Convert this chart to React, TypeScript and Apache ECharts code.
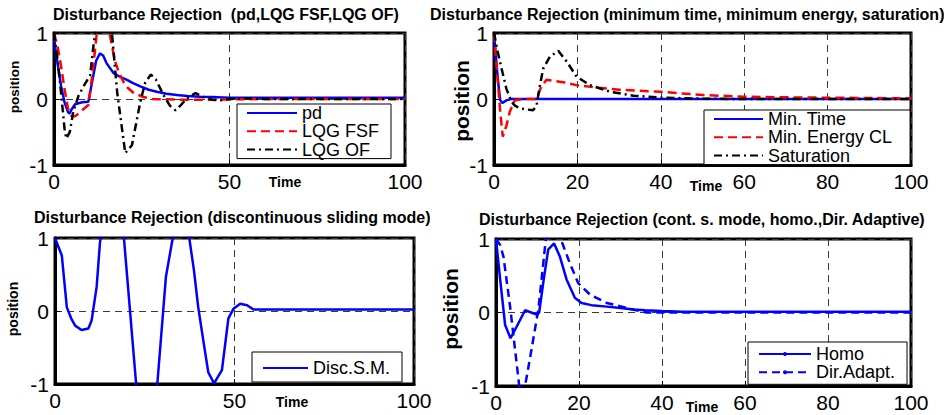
import React, { useEffect, useRef } from "react";
import * as echarts from "echarts";

const FONT = '"Liberation Sans", Arial, Helvetica, sans-serif';

// ---------- Panel titles ----------
const TITLES = [
  "Disturbance Rejection  (pd,LQG FSF,LQG OF)",
  "Disturbance Rejection (minimum time, minimum energy, saturation)",
  "Disturbance Rejection (discontinuous sliding mode)",
  "Disturbance Rejection (cont. s. mode, homo.,Dir. Adaptive)",
];
const X_NAME = "Time";
const Y_NAME = "position";

// ---------- Panel 1: pd, LQG FSF, LQG OF ----------
const pdT = [0, 1, 2, 3, 4, 4.5, 5, 6, 8, 9.8, 11, 12, 13.1, 14, 15, 17, 19, 20.8, 22.5, 24.6, 27, 29.3, 32, 35, 38, 41.7, 45, 50, 60, 70, 80, 90, 100];
const pdY = [0.9, 0.55, 0.2, -0.05, -0.2, -0.22, -0.16, -0.08, -0.05, -0.04, 0.3, 0.58, 0.69, 0.66, 0.54, 0.39, 0.33, 0.29, 0.24, 0.19, 0.14, 0.11, 0.08, 0.06, 0.045, 0.035, 0.03, 0.02, 0.02, 0.02, 0.02, 0.02, 0.02];

const fsfT = [0, 1, 2, 3, 4, 5, 6, 7, 8, 9.8, 11, 12.2, 13, 14, 15, 15.8, 17.4, 18.5, 19.8, 21, 22.7, 25.5, 28, 35, 45, 60, 80, 100];
const fsfY = [1, 0.8, 0.5, 0.15, -0.15, -0.26, -0.26, -0.22, -0.17, -0.09, 0.4, 1.0, 1.15, 1.2, 1.12, 1.0, 0.57, 0.4, 0.26, 0.17, 0.09, 0.03, 0.0, -0.01, -0.01, 0, 0, 0];

const ofT = [0, 1, 2, 3, 3.5, 4.5, 5.5, 7, 8.4, 10.3, 11, 11.7, 13, 14.5, 16, 16.5, 18, 20.3, 22.2, 24.6, 26, 27.6, 29, 31.2, 33, 34.6, 36, 37.9, 40.3, 42.6, 45, 47.4, 50, 55, 60, 70, 80, 90, 100];
const ofY = [1, 0.6, 0.1, -0.45, -0.6, -0.5, -0.19, 0.05, 0.19, 0.36, 0.7, 1.0, 1.4, 1.5, 1.2, 1.0, 0.1, -0.82, -0.7, -0.04, 0.25, 0.37, 0.3, 0.06, -0.1, -0.17, -0.1, 0.01, 0.09, 0.03, -0.01, -0.02, 0, 0.01, 0, 0, 0, 0, 0];

// ---------- Panel 2: Min. Time, Min. Energy CL, Saturation ----------
const mtT = [0, 0.5, 1, 1.5, 2, 3, 4, 100];
const mtY = [1, 0.6, 0.25, -0.02, -0.06, -0.02, 0, 0];

const meT = [0, 1, 1.5, 2.1, 3, 3.8, 5, 7, 10.2, 11.4, 12.6, 14, 17, 19.8, 25, 30, 40, 50, 60, 70, 80, 90, 100];
const meY = [1, 0.2, -0.2, -0.57, -0.4, -0.19, -0.02, 0, 0, 0.2, 0.29, 0.28, 0.25, 0.21, 0.17, 0.14, 0.11, 0.06, 0.035, 0.025, 0.02, 0.015, 0.01];

const satT = [0, 1, 2.2, 3, 4.2, 5, 6.2, 8, 9.4, 10.2, 11, 11.8, 13.4, 15.4, 17.4, 19.8, 23, 27.8, 33.4, 40, 50, 60, 100];
const satY = [1, 0.68, 0.36, 0.15, -0.04, -0.1, -0.14, -0.16, -0.17, -0.1, 0.2, 0.46, 0.64, 0.73, 0.57, 0.34, 0.21, 0.11, 0.05, 0.02, 0.005, 0, 0];

// ---------- Panel 3: Disc.S.M. ----------
const dsmT = [0, 1.9, 3.3, 4.5, 5.6, 7.4, 9.3, 10.2, 11.6, 12.5, 14, 16, 18, 19.2, 22.6, 24, 25.5, 27, 28.5, 30.9, 32.8, 34, 35.5, 36.5, 37.4, 38.7, 39.9, 41.3, 42.7, 44.3, 46.5, 48.3, 49.7, 51.6, 53.5, 55.3, 60, 70, 80, 90, 100];
const dsmY = [1, 0.76, 0.05, -0.1, -0.2, -0.26, -0.24, -0.13, 0.33, 0.92, 1.6, 1.9, 1.6, 1.0, -1.0, -1.7, -1.9, -1.7, -1.0, 0.47, 1.0, 1.5, 1.7, 1.4, 1.0, 0.56, 0.05, -0.4, -0.84, -0.99, -0.81, -0.1, 0.03, 0.1, 0.08, 0.02, 0.02, 0.02, 0.02, 0.02, 0.02];

// ---------- Panel 4: Homo, Dir.Adapt. ----------
const homoT = [0, 1, 2.2, 3.5, 5, 7, 8.5, 9.8, 10.4, 11.5, 12.6, 14, 15.4, 17, 19, 20.6, 23, 26.7, 30, 33.1, 36, 40, 45, 50, 60, 70, 80, 90, 100];
const homoY = [1, 0.45, -0.17, -0.35, -0.19, 0.03, 0.0, -0.03, 0.0, 0.45, 0.86, 0.94, 0.76, 0.45, 0.2, 0.13, 0.1, 0.08, 0.06, 0.04, 0.03, 0.02, 0.01, 0.01, 0.01, 0.01, 0.01, 0.01, 0.01];

const dirT = [0, 1, 1.8, 3.4, 4.6, 5.6, 6.3, 7, 8.2, 10.2, 11.4, 12, 13, 14, 15, 15.6, 17.8, 19.8, 22.7, 26.7, 32.3, 36.3, 40, 50, 60, 70, 80, 90, 100];
const dirY = [1, 0.92, 0.76, 0.08, -0.51, -1.0, -1.1, -1.0, -0.62, 0.04, 0.67, 1.0, 1.15, 1.2, 1.1, 1.0, 0.67, 0.4, 0.24, 0.13, 0.05, 0.0, 0.0, 0.0, 0.0, 0.0, 0.0, 0.0, 0.0];

// ---------- Axis ticks ----------
const X_MIN = 0;
const X_MAX = 100;
const X_INTERVALS = [50, 20, 50, 20];
const Y_MIN = -1;
const Y_MAX = 1;
const Y_INTERVAL = 1;

const pairs = (t: number[], y: number[]) => t.map((x, i) => [x, y[i]]);

const BLUE = "#0000ff";
const RED = "#ff0000";
const BLACK = "#000000";
const DASH = [9, 5];
const DASHDOT = [8, 4, 2, 4];

function line(name: string, idx: number, t: number[], y: number[], color: string, type: any, withSymbol = false) {
  return {
    type: "line",
    name,
    xAxisIndex: idx,
    yAxisIndex: idx,
    data: pairs(t, y),
    symbol: withSymbol ? "circle" : "none",
    symbolSize: 4,
    showSymbol: false,
    silent: true,
    clip: true,
    lineStyle: { color, width: 2.5, type },
    itemStyle: { color },
  };
}

export default function App() {
  const ref = useRef<HTMLDivElement>(null);

  useEffect(() => {
    document.body.style.margin = "0";
    const chart = echarts.init(ref.current!, null, { renderer: "svg" });

    const grids = [
      { left: 54, top: 33, width: 351, height: 132 },
      { left: 494, top: 33, width: 417, height: 132 },
      { left: 55, top: 238, width: 359, height: 146 },
      { left: 496, top: 239, width: 415, height: 147 },
    ];

    const grid = grids.map((g) => ({
      ...g,
      show: true,
      backgroundColor: "#fff",
      borderColor: "#000",
      borderWidth: 3,
      containLabel: false,
    }));

    const splitLine = { show: true, lineStyle: { color: "#3a3a3a", width: 1, type: [7, 5] } };

    const xAxis = grids.map((_, i) => ({
      type: "value",
      gridIndex: i,
      min: X_MIN,
      max: X_MAX,
      interval: X_INTERVALS[i],
      axisLine: { show: true, onZero: false, lineStyle: { color: "#000", width: 3 } },
      axisTick: { show: true, inside: true, length: 5, lineStyle: { color: "#000", width: 1 } },
      axisLabel: { fontSize: 21, color: "#000", margin: 6, fontFamily: FONT },
      splitLine,
    }));

    const yAxis = grids.map((_, i) => ({
      type: "value",
      gridIndex: i,
      min: Y_MIN,
      max: Y_MAX,
      interval: Y_INTERVAL,
      axisLine: { show: true, onZero: false, lineStyle: { color: "#000", width: 3 } },
      axisTick: { show: true, inside: true, length: 5, lineStyle: { color: "#000", width: 1 } },
      axisLabel: { fontSize: 21, color: "#000", margin: 6, fontFamily: FONT },
      splitLine,
    }));

    const titleStyle = { fontSize: 16, fontWeight: "bold", fontFamily: FONT, color: "#000" };
    const title = [
      { text: TITLES[0], left: 53, top: 6, padding: 0, textStyle: titleStyle },
      { text: TITLES[1], left: 430, top: 6, padding: 0, textStyle: titleStyle },
      { text: TITLES[2], left: 34, top: 209, padding: 0, textStyle: titleStyle },
      { text: TITLES[3], left: 479, top: 211, padding: 0, textStyle: titleStyle },
    ];

    const legendBase = {
      orient: "vertical",
      backgroundColor: "#fff",
      borderColor: "#000",
      borderWidth: 1,
      borderRadius: 0,
      selectedMode: false,
      itemGap: 0.3,
      textStyle: { fontSize: 18, color: "#000", fontFamily: FONT },
    };
    const legend = [
      { ...legendBase, data: ["pd", "LQG FSF", "LQG OF"], left: 237, top: 104, itemWidth: 50, itemHeight: 14, padding: [0, 12, 0, 9], itemStyle: { opacity: 0 } },
      { ...legendBase, data: ["Min. Time", "Min. Energy CL", "Saturation"], left: 704, top: 110, itemWidth: 49, itemHeight: 14, padding: [0, 18, 0, 9], itemStyle: { opacity: 0 } },
      { ...legendBase, data: ["Disc.S.M."], left: 252, top: 352, itemWidth: 45, itemHeight: 14, padding: [7, 12, 5, 10], itemStyle: { opacity: 0 } },
      { ...legendBase, data: ["Homo", "Dir.Adapt."], left: 748, top: 342, itemWidth: 52, itemHeight: 5, padding: [3, 12, 3, 10] },
    ];

    const series = [
      line("pd", 0, pdT, pdY, BLUE, "solid"),
      line("LQG FSF", 0, fsfT, fsfY, RED, DASH),
      line("LQG OF", 0, ofT, ofY, BLACK, DASHDOT),
      line("Min. Time", 1, mtT, mtY, BLUE, "solid"),
      line("Min. Energy CL", 1, meT, meY, RED, DASH),
      line("Saturation", 1, satT, satY, BLACK, DASHDOT),
      line("Disc.S.M.", 2, dsmT, dsmY, BLUE, "solid"),
      line("Homo", 3, homoT, homoY, BLUE, "solid", true),
      line("Dir.Adapt.", 3, dirT, dirY, BLUE, [8, 5], true),
    ];

    const nameText = (text: string, x: number, y: number, size: number, rotated: boolean) => ({
      type: "text",
      x,
      y,
      rotation: rotated ? Math.PI / 2 : 0,
      silent: true,
      style: {
        text,
        fontSize: size,
        fontWeight: "bold",
        fontFamily: FONT,
        fill: "#000",
        align: "center",
        verticalAlign: "middle",
      },
    });

    const graphic = [
      nameText(X_NAME, 285, 182, 14, false),
      nameText(X_NAME, 706, 186, 14, false),
      nameText(X_NAME, 292, 402, 14, false),
      nameText(X_NAME, 702, 407, 14, false),
      nameText(Y_NAME, 14, 87, 13.5, true),
      nameText(Y_NAME, 461, 101, 21, true),
      nameText(Y_NAME, 13, 309, 14, true),
      nameText(Y_NAME, 450, 309, 21, true),
    ];

    chart.setOption({
      animation: false,
      backgroundColor: "#fff",
      textStyle: { fontFamily: FONT },
      title,
      grid,
      xAxis,
      yAxis,
      legend,
      series,
      graphic,
    });

    return () => chart.dispose();
  }, []);

  return (
    <div
      ref={ref}
      style={{ position: "absolute", left: 0, top: 0, width: 944, height: 415, overflow: "hidden" }}
    />
  );
}
